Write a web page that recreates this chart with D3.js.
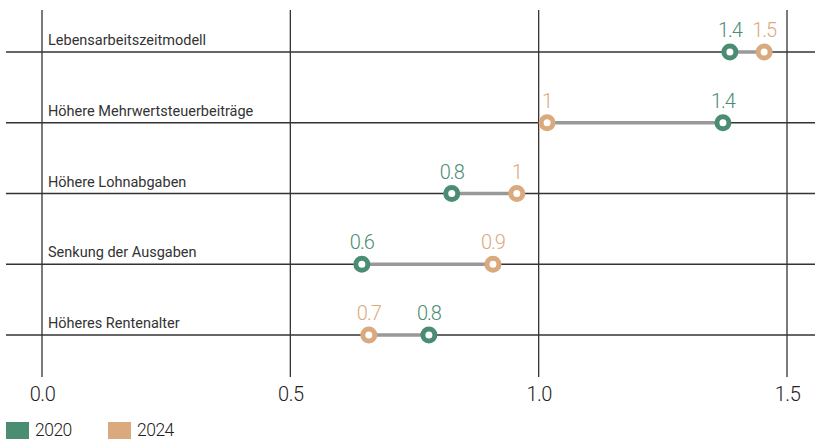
<!DOCTYPE html>
<html>
<head>
<meta charset="utf-8">
<script src="https://cdn.jsdelivr.net/npm/d3@7"></script>
<style>
  body { margin: 0; background: #fff; }
  text { font-family: Roboto, "Open Sans", sans-serif; }
</style>
</head>
<body>
<script>
var categories = ["Lebensarbeitszeitmodell", "Höhere Mehrwertsteuerbeiträge", "Höhere Lohnabgaben", "Senkung der Ausgaben", "Höheres Rentenalter"];
var values2020 = [1.385, 1.371, 0.825, 0.644, 0.779];
var values2024 = [1.454, 1.017, 0.956, 0.908, 0.658];
var xTicks = [0, 0.5, 1.0, 1.5];
var seriesNames = ["2020", "2024"];

var green = "#4b8d73", tan = "#daa97d";

var width = 819, height = 440;

var x = d3.scaleLinear().domain([0, 1.5]).range([42, 787]);
var y = d3.scalePoint().domain(categories).range([52, 335]);

var svg = d3.select("body").append("svg")
    .attr("width", width)
    .attr("height", height);

// vertical grid
svg.append("g").selectAll("line")
    .data(xTicks)
    .enter().append("line")
    .attr("x1", function(d) { return x(d); })
    .attr("x2", function(d) { return x(d); })
    .attr("y1", 10)
    .attr("y2", 377)
    .attr("stroke", "#333")
    .attr("stroke-width", 1.3);

// horizontal row lines
svg.append("g").selectAll("line")
    .data(categories)
    .enter().append("line")
    .attr("x1", 6)
    .attr("x2", 815)
    .attr("y1", function(d) { return y(d); })
    .attr("y2", function(d) { return y(d); })
    .attr("stroke", "#333")
    .attr("stroke-width", 1.3);

// x axis labels
var xAxis = d3.axisBottom(x).tickValues(xTicks).tickFormat(d3.format(".1f")).tickSize(0);
var gx = svg.append("g")
    .attr("transform", "translate(0,384)")
    .call(xAxis);
gx.select(".domain").remove();
gx.selectAll("text")
    .attr("font-size", 20)
    .attr("fill", "#222")
    .attr("letter-spacing", -0.5)
    .style("font-family", "Roboto, sans-serif")
    .style("font-weight", 300);

// category labels
svg.append("g").selectAll("text")
    .data(categories)
    .enter().append("text")
    .attr("x", 48)
    .attr("y", function(d) { return y(d) - 7; })
    .attr("font-size", 14.5)
    .attr("fill", "#333")
    .text(function(d) { return d; });

var rows = categories.map(function(c, i) {
    return {cat: c, a: values2020[i], b: values2024[i]};
});

// connectors
svg.append("g").selectAll("line")
    .data(rows)
    .enter().append("line")
    .attr("x1", function(d) { return x(d.a); })
    .attr("x2", function(d) { return x(d.b); })
    .attr("y1", function(d) { return y(d.cat); })
    .attr("y2", function(d) { return y(d.cat); })
    .attr("stroke", "#999")
    .attr("stroke-width", 3.5);

var fmt = d3.format(".1~f");

function drawSeries(key, color) {
    var g = svg.append("g");
    g.selectAll("circle")
        .data(rows)
        .enter().append("circle")
        .attr("cx", function(d) { return x(d[key]); })
        .attr("cy", function(d) { return y(d.cat); })
        .attr("r", 6)
        .attr("fill", "#fff")
        .attr("stroke", color)
        .attr("stroke-width", 5);
    g.selectAll("text")
        .data(rows)
        .enter().append("text")
        .attr("x", function(d) { return x(d[key]); })
        .attr("y", function(d) { return y(d.cat) - 15; })
        .attr("text-anchor", "middle")
        .attr("font-size", 20)
        .attr("font-weight", 300)
        .attr("letter-spacing", -1)
        .attr("fill", color)
        .text(function(d) { return fmt(d[key]); });
}
drawSeries("a", green);
drawSeries("b", tan);

// legend
var legend = svg.append("g").selectAll("g")
    .data(seriesNames)
    .enter().append("g")
    .attr("transform", function(d, i) { return "translate(" + (6 + i * 102) + ",422)"; });
legend.append("rect")
    .attr("width", 23)
    .attr("height", 17)
    .attr("fill", function(d, i) { return i === 0 ? green : tan; });
legend.append("text")
    .attr("x", 29)
    .attr("y", 14)
    .attr("font-size", 17.5)
    .attr("font-weight", 300)
    .attr("letter-spacing", -0.5)
    .attr("fill", "#222")
    .text(function(d) { return d; });
</script>
</body>
</html>
